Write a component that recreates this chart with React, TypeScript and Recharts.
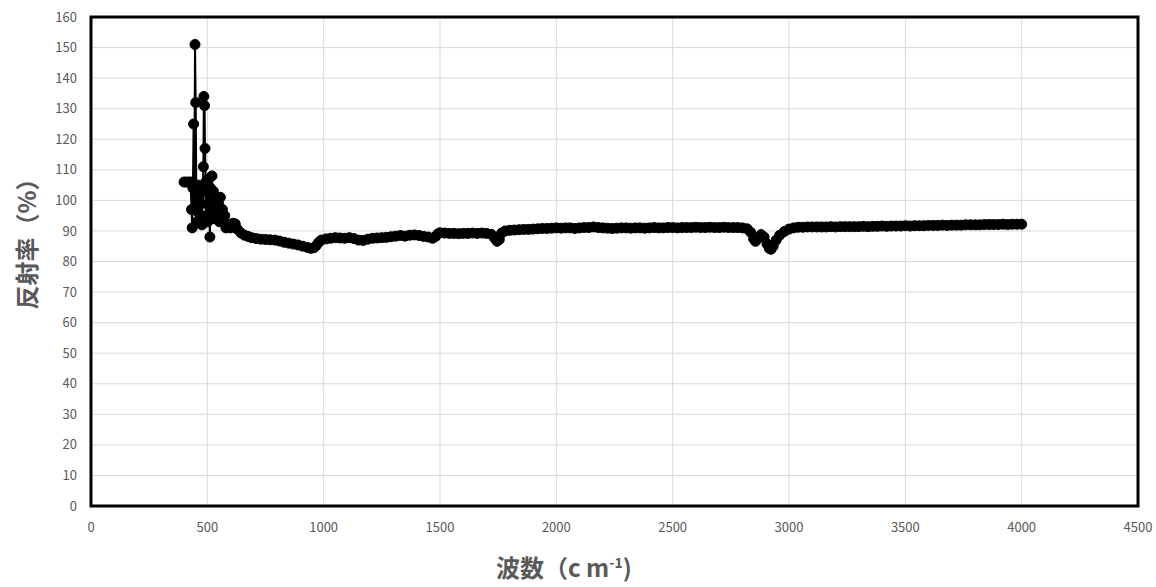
import { LineChart, Line, XAxis, YAxis, CartesianGrid, ReferenceArea, Label } from 'recharts';

// axis ticks
const wavenumberTicks = [0, 500, 1000, 1500, 2000, 2500, 3000, 3500, 4000, 4500];
const reflectanceTicks = [0, 10, 20, 30, 40, 50, 60, 70, 80, 90, 100, 110, 120, 130, 140, 150, 160];

// [wavenumber, reflectance] – noisy low-wavenumber part
const lowRange: [number, number][] = [
  [400, 106], [410, 106], [420, 106], [428, 106], [432, 97], [435, 91], [438, 104], [441, 125],
  [444, 97], [447, 151], [450, 132], [453, 100], [456, 93], [459, 105], [462, 96], [465, 101],
  [468, 94], [471, 104], [474, 99], [477, 92], [480, 103], [483, 111], [485, 134], [488, 131],
  [490, 117], [493, 106], [496, 95], [499, 103], [502, 93], [505, 107], [508, 98], [511, 88],
  [514, 104], [517, 95], [520, 108], [523, 99], [526, 103], [529, 94], [532, 100], [536, 97],
  [540, 101], [544, 95], [548, 99], [552, 93], [556, 101], [560, 96], [565, 97], [570, 93],
  [575, 95], [580, 91], [590, 92], [600, 91], [610, 92.5], [620, 92.3], [630, 90.5], [645, 89.3],
  [660, 88.6],
];

// fingerprint region
const midRange: [number, number][] = [
  [675, 88.2], [690, 87.8], [710, 87.5], [730, 87.3], [750, 87.2], [770, 87.1], [790, 87.0],
  [810, 86.7], [830, 86.3], [850, 86.0], [870, 85.7], [890, 85.4], [910, 85.0], [930, 84.6],
  [945, 84.3], [958, 84.5], [968, 85.2], [978, 86.2], [990, 87.0], [1010, 87.4], [1030, 87.6],
  [1050, 87.8], [1070, 87.7], [1090, 87.6], [1110, 87.8], [1130, 87.5], [1150, 87.0], [1170, 86.9],
  [1190, 87.3], [1210, 87.6], [1230, 87.7], [1250, 87.8], [1270, 87.9], [1290, 88.1], [1310, 88.3],
  [1330, 88.5], [1350, 88.3], [1370, 88.6], [1390, 88.7], [1410, 88.5], [1430, 88.2], [1450, 88.0],
  [1468, 87.6], [1480, 88.1], [1490, 89.0], [1500, 89.4], [1520, 89.3], [1540, 89.2], [1560, 89.2],
  [1580, 89.1], [1600, 89.2], [1620, 89.2], [1640, 89.3], [1660, 89.2], [1680, 89.3], [1700, 89.2],
  [1720, 88.9], [1735, 87.6], [1745, 86.6], [1755, 87.2], [1765, 89.3],
];

// flat plateau
const plateauRange: [number, number][] = [
  [1780, 90.0], [1800, 90.2], [1820, 90.3], [1840, 90.4], [1860, 90.5], [1880, 90.5], [1900, 90.6],
  [1920, 90.7], [1940, 90.8], [1960, 90.8], [1980, 90.9], [2000, 91.0], [2020, 90.9], [2040, 91.0],
  [2060, 91.0], [2080, 90.8], [2100, 91.0], [2120, 91.1], [2140, 91.1], [2160, 91.3], [2180, 91.1],
  [2200, 91.0], [2220, 90.9], [2240, 90.8], [2260, 90.9], [2280, 91.0], [2300, 91.0], [2320, 90.9],
  [2340, 91.0], [2360, 91.0], [2380, 90.9], [2400, 91.0], [2420, 91.1], [2440, 91.0], [2460, 91.0],
  [2480, 91.1], [2500, 91.1], [2520, 91.0], [2540, 91.1], [2560, 91.1], [2580, 91.1], [2600, 91.2],
  [2620, 91.1], [2640, 91.1], [2660, 91.2], [2680, 91.1], [2700, 91.1], [2720, 91.2], [2740, 91.1],
  [2760, 91.1], [2780, 91.1], [2800, 91.0], [2820, 90.7],
];

// C-H stretch dips and high-wavenumber tail
const highRange: [number, number][] = [
  [2835, 89.6], [2848, 87.4], [2856, 86.6], [2866, 87.6], [2880, 88.8], [2893, 88.0], [2905, 85.8],
  [2915, 84.3], [2923, 84.0], [2932, 85.0], [2945, 87.0], [2960, 88.6], [2980, 89.8], [3000, 90.6],
  [3020, 91.0], [3040, 91.2], [3060, 91.2], [3080, 91.3], [3100, 91.3], [3120, 91.3], [3140, 91.3],
  [3160, 91.3], [3180, 91.4], [3200, 91.3], [3220, 91.4], [3240, 91.4], [3260, 91.4], [3280, 91.4],
  [3300, 91.4], [3320, 91.5], [3340, 91.4], [3360, 91.5], [3380, 91.5], [3400, 91.6], [3420, 91.5],
  [3440, 91.6], [3460, 91.6], [3480, 91.6], [3500, 91.7], [3520, 91.6], [3540, 91.7], [3560, 91.7],
  [3580, 91.7], [3600, 91.8], [3620, 91.8], [3640, 91.8], [3660, 91.9], [3680, 91.8], [3700, 91.9],
  [3720, 91.9], [3740, 91.9], [3760, 92.0], [3780, 92.0], [3800, 92.0], [3820, 92.0], [3840, 92.1],
  [3860, 92.1], [3880, 92.1], [3900, 92.1], [3920, 92.2], [3940, 92.1], [3960, 92.2], [3980, 92.2],
  [4000, 92.2],
];

const spectrum = [...lowRange, ...midRange, ...plateauRange, ...highRange].map(([wavenumber, reflectance]) => ({
  wavenumber,
  reflectance,
}));

const TEXT = '#595959';
const FONT = '"Noto Sans CJK JP", "Noto Sans", sans-serif';

export default function App() {
  return (
    <div style={{ position: 'absolute', left: 0, top: 0, width: 1156, height: 587, background: '#fff' }}>
      <LineChart
        width={1156}
        height={587}
        data={spectrum}
        margin={{ top: 17, right: 18, left: 0, bottom: 0 }}
        style={{ fontFamily: FONT }}
      >
        <CartesianGrid stroke="#d9d9d9" strokeWidth={1} />
        <XAxis
          type="number"
          dataKey="wavenumber"
          domain={[0, 4500]}
          ticks={wavenumberTicks}
          interval={0}
          height={81}
          axisLine={false}
          tickLine={false}
          tickMargin={11}
          tick={{ fill: TEXT, fontSize: 13, fontFamily: FONT }}
        >
          <Label
            content={() => (
              <text x={496} y={577} fill={TEXT} fontSize={24} fontWeight="bold" fontFamily={FONT}>
                <tspan>波数（c m</tspan>
                <tspan fontSize={14} dy={-9}>-1</tspan>
                <tspan dy={9}>)</tspan>
              </text>
            )}
          />
        </XAxis>
        <YAxis
          type="number"
          domain={[0, 160]}
          ticks={reflectanceTicks}
          interval={0}
          width={91}
          axisLine={false}
          tickLine={false}
          tickMargin={8}
          tick={{ fill: TEXT, fontSize: 13, fontFamily: FONT }}
        >
          <Label
            content={() => (
              <text
                x={25}
                y={238}
                fill={TEXT}
                fontSize={24}
                fontWeight="bold"
                fontFamily={FONT}
                textAnchor="middle"
                dominantBaseline="central"
                transform="rotate(-90, 25, 238)"
              >
                反射率（%）
              </text>
            )}
          />
        </YAxis>
        <ReferenceArea x1={0} x2={4500} y1={0} y2={160} fill="none" stroke="#000" strokeWidth={3} />
        <Line
          type="linear"
          dataKey="reflectance"
          stroke="#000"
          strokeWidth={2}
          dot={{ r: 5, fill: '#000', stroke: '#000', strokeWidth: 1 }}
          activeDot={false}
          isAnimationActive={false}
        />
      </LineChart>
    </div>
  );
}
